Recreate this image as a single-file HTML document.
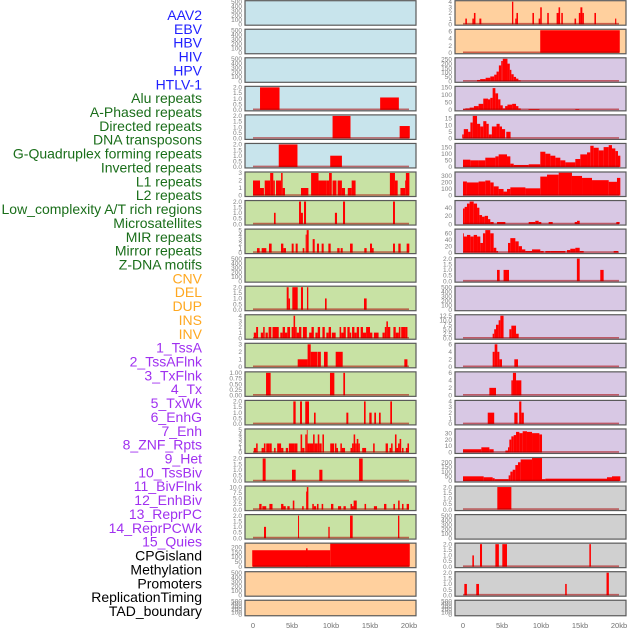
<!DOCTYPE html>
<html><head><meta charset="utf-8"><style>
html,body{margin:0;padding:0;background:#fff;}
svg{display:block;font-family:"Liberation Sans",sans-serif;}
</style></head><body>
<svg id="chart" width="630" height="630" viewBox="0 0 630 630" xmlns="http://www.w3.org/2000/svg"></svg>
<script>
const featureLabels = ["AAV2","EBV","HBV","HIV","HPV","HTLV-1","Alu repeats","A-Phased repeats","Directed repeats","DNA transposons","G-Quadruplex forming repeats","Inverted repeats","L1 repeats","L2 repeats","Low_complexity A/T rich regions","Microsatellites","MIR repeats","Mirror repeats","Z-DNA motifs","CNV","DEL","DUP","INS","INV","1_TssA","2_TssAFlnk","3_TxFlnk","4_Tx","5_TxWk","6_EnhG","7_Enh","8_ZNF_Rpts","9_Het","10_TssBiv","11_BivFlnk","12_EnhBiv","13_ReprPC","14_ReprPCWk","15_Quies","CPGisland","Methylation","Promoters","ReplicationTiming","TAD_boundary"];
const featureGroups = ["virus","virus","virus","virus","virus","virus","repeat","repeat","repeat","repeat","repeat","repeat","repeat","repeat","repeat","repeat","repeat","repeat","repeat","sv","sv","sv","sv","sv","chrom","chrom","chrom","chrom","chrom","chrom","chrom","chrom","chrom","chrom","chrom","chrom","chrom","chrom","chrom","other","other","other","other","other"];
const xTickValues = [0,5,10,15,20];
const xTickLabels = ["0","5kb","10kb","15kb","20kb"];
const yMaxValues = [500,500,500,2,2,2,3,2,5,500,2,4,3,1,2,5,2,10,2,233,500,500,4,6.3,255,150,17,170,345,55,70,2,500,12.5,6,6,4,35,240,2,500,2,2,500];
const yTickSets = [
 [0,100,200,300,400,500],[0,100,200,300,400,500],[0,100,200,300,400,500],
 [0,0.5,1,1.5,2],[0,0.5,1,1.5,2],[0,0.5,1,1.5,2],[0,1,2,3],[0,0.5,1,1.5,2],[0,1,2,3,4,5],
 [0,100,200,300,400,500],[0,0.5,1,1.5,2],[0,1,2,3,4],[0,1,2,3],[0,0.25,0.5,0.75,1],
 [0,0.5,1,1.5,2],[0,1,2,3,4,5],[0,0.5,1,1.5,2],[0,2.5,5,7.5,10],[0,0.5,1,1.5,2],
 [0,50,100,150,200],[0,100,200,300,400,500],[0,100,200,300,400,500],
 [0,1,2,3,4],[0,2,4,6],[0,50,100,150,200,250],[0,50,100,150],[0,5,10,15],[0,50,100,150],
 [0,100,200,300],[0,20,40],[0,20,40,60],[0,0.5,1,1.5,2],[0,100,200,300,400,500],
 [0,2.5,5,7.5,10,12.5],[0,2,4,6],[0,2,4,6],[0,1,2,3,4],[0,10,20,30],[0,50,100,150,200],
 [0,0.5,1,1.5,2],[0,100,200,300,400,500],[0,0.5,1,1.5,2],[0,0.5,1,1.5,2],[0,100,200,300,400,500]];

// bars: [start kb, end kb, value]
const barsHIV = [[0.9,3.4,2],[16.3,18.7,1.1]];
const barsHPV = [[10.2,12.5,2],[18.8,20.1,1.1]];
const barsHTLV = [[3.3,5.7,2],[9.9,11.4,1]];
const barsAlu = [[0,0.9,2],[0.9,1.4,1],[1.5,2.2,2],[2.2,2.6,3],[2.6,2.8,2],[2.95,3.6,2],[3.6,3.8,3],[3.8,4.1,1],[6.15,7.1,1],[7.45,8.4,3],[8.4,9.45,2],[9.45,9.75,2],[9.75,10.1,3],[10.2,10.7,2],[10.85,11.4,2],[11.4,11.8,1],[12.15,12.65,1],[12.65,13.15,2],[17.55,18.2,3],[18.2,18.55,2],[18.9,19.5,1],[19.5,19.6,2],[19.6,20.05,3]];
const barsAPhased = [[2.69,2.9,1],[5.9,6.15,2],[6.15,6.4,1],[6.54,6.8,2],[10.5,10.77,1],[11.54,11.8,2],[17.95,18.2,2]];
const barsDirected = [[0.51,0.85,1],[1.11,1.71,1],[2.05,2.39,2],[3.59,3.89,2],[3.89,4.23,1],[4.96,5.21,2],[5.47,5.73,2],[6.37,6.58,1],[6.75,6.88,4],[6.88,7.14,5],[7.65,7.91,3],[8.2,8.46,2],[8.8,9.06,2],[9.66,9.96,2],[10.8,11.1,1],[11.24,11.5,1],[12.44,12.78,2],[14.27,14.57,1],[15.0,15.26,2],[15.26,15.47,1],[17.95,18.2,2],[18.63,18.93,2],[19.7,20.04,2]];
const barsGQuad = [[4.32,4.57,2],[4.57,4.74,1],[5.04,5.73,2],[6.15,6.41,2],[6.92,7.09,2],[9.23,9.44,1],[14.23,14.57,1]];
const barsInverted = [[0.1,0.4,1],[0.4,0.65,2],[1.0,1.3,1],[1.3,1.5,2],[1.6,1.9,1],[2.0,2.35,2],[2.5,2.95,2],[2.95,3.3,2],[3.5,3.8,1],[3.8,4.1,2],[4.1,4.4,1],[4.4,4.75,2],[4.95,5.2,2],[5.2,5.4,4],[5.4,5.6,2],[5.6,5.9,1],[5.9,6.2,2],[6.4,6.9,2],[7.2,7.5,1],[7.5,7.8,2],[8.0,8.3,1],[8.3,8.6,2],[8.9,9.2,2],[9.4,9.7,1],[9.7,10.0,2],[10.1,10.6,1],[11.1,11.3,2],[11.3,11.6,1],[11.6,11.9,2],[12.1,12.4,2],[12.4,12.6,1],[12.7,13.0,2],[13.0,13.3,1],[13.3,13.6,2],[13.8,14.1,2],[14.1,14.5,1],[14.5,15.0,2],[15.0,15.3,1],[15.5,16.1,1],[16.6,16.9,1],[16.9,17.1,2],[17.1,17.3,3],[17.3,17.6,2],[18.0,18.3,2],[18.3,18.7,1],[18.7,18.9,2],[19.0,19.5,2],[19.5,19.8,2]];
const barsL1 = [[5.73,7.0,1],[7.0,7.4,3],[7.4,8.25,2],[8.3,8.7,2],[9.1,9.57,2],[10.6,11.5,2],[19.4,19.8,1]];
const barsL2 = [[1.67,2.26,1],[9.87,10.43,1],[11.58,11.8,1]];
const barsLowComplex = [[5.17,5.47,2],[6.03,6.28,2],[6.7,7.18,2],[7.82,8.03,1],[11.97,12.22,1],[14.23,14.44,2],[14.91,15.21,1],[15.55,15.77,1],[16.15,16.37,1],[17.6,17.82,2]];
const barsMicrosat = [[0.1,0.4,1],[0.4,0.6,2],[1.1,1.4,1],[1.4,1.6,2],[1.7,2.1,2],[2.1,2.4,2],[2.7,2.9,1],[3.1,3.4,2],[3.4,3.6,2],[3.6,3.9,1],[4.2,4.5,1],[4.6,5.3,2],[5.3,5.7,2],[6.1,6.3,4],[6.3,6.6,1],[6.7,6.9,4],[6.9,7.0,5],[7.0,7.3,2],[7.3,7.7,2],[7.7,7.9,4],[7.9,8.3,2],[8.3,8.5,4],[8.5,8.8,2],[8.9,9.1,4],[9.9,10.4,2],[10.5,10.7,2],[10.7,10.9,1],[11.2,11.4,2],[11.4,11.8,1],[12.5,12.7,1],[12.7,12.9,2],[12.9,13.1,4],[13.1,13.3,2],[13.3,13.5,3],[13.5,13.7,2],[14.0,14.5,1],[15.4,15.6,2],[17.0,17.3,2],[17.5,17.7,1],[17.7,17.9,2],[18.2,18.4,4],[18.4,18.6,1],[18.6,18.8,2],[18.8,19.0,3],[19.1,19.3,1],[19.6,19.8,1],[19.8,20.0,2]];
const barsMIR = [[1.24,1.62,2],[5.0,5.47,1],[8.5,8.9,1],[13.6,14.06,2]];
const barsMirror = [[0.8,1.1,2.5],[1.2,1.7,1.5],[2.1,2.5,2.5],[3.6,3.9,2.5],[3.9,4.2,1.5],[4.4,4.7,1.5],[5.1,5.3,4],[6.3,6.5,1.5],[6.8,6.9,8],[6.9,7.1,10],[7.6,7.8,2.5],[7.8,8.1,1.5],[8.2,8.4,2.5],[8.8,9.0,2.5],[10.0,10.3,2.5],[10.9,11.3,1.5],[11.6,11.9,1.5],[12.5,12.7,2.5],[12.7,12.9,1.5],[12.9,13.3,4],[14.3,14.5,2.5],[15.5,15.9,1.5],[16.8,17.1,2.5],[18.0,18.2,2.5],[18.6,18.8,4],[19.1,19.3,2.5],[19.7,20.0,2.5]];
const barsZDNA = [[1.41,1.67,1],[5.77,5.9,2],[9.66,9.83,1],[12.44,12.78,2],[18.59,18.76,2]];
const barsCNV = [[-0.1,9.9,170],[6.8,7.0,190],[9.9,20.1,240]];
const barsINS = [[0.3,0.5,1],[1.2,1.4,1],[1.4,1.6,2],[2.1,2.35,1],[6.28,6.45,4],[6.7,6.85,1],[6.85,7.05,2],[8.9,9.1,2],[9.7,9.9,1],[9.9,10.1,3],[10.8,11.0,2],[12.0,12.25,2],[12.25,12.45,3],[12.6,12.8,2],[14.3,14.5,1],[14.85,15.05,2],[15.05,15.3,3],[15.3,15.5,2],[16.85,17.05,2],[19.5,19.65,1]];
const barsINV = [[9.9,20.1,6.3]];
const barsTssA = [[1.8,2.2,15],[2.2,2.9,25],[2.9,3.5,40],[3.5,4.0,55],[4.0,4.3,75],[4.3,4.6,110],[4.6,4.9,180],[4.9,5.1,230],[5.1,5.7,255],[5.7,6.0,200],[6.0,6.2,130],[6.2,6.5,80],[6.5,6.8,50],[6.8,7.1,30],[7.1,7.4,10]];
const barsTssAFlnk = [[0,0.3,5],[0.3,0.85,10],[0.85,1.4,15],[1.4,2.0,25],[2.0,2.6,40],[2.6,3.2,75],[3.2,3.5,70],[3.5,3.8,80],[3.8,4.15,145],[4.15,4.5,110],[4.5,4.8,70],[4.8,5.1,30],[5.1,5.4,10],[5.4,5.7,25],[5.7,6.3,35],[6.3,6.8,40],[6.8,7.1,25],[7.1,7.4,10],[8.4,9.8,5],[14.4,14.9,5]];
const barsTxFlnk = [[-0.1,0.1,3],[0.1,0.65,7],[0.65,0.95,5],[0.95,1.25,12],[1.25,1.8,17],[1.8,2.2,11],[2.2,2.6,9],[2.6,3.0,13],[3.0,3.3,11],[3.3,3.7,3],[3.7,4.3,9],[4.3,4.7,11],[4.7,5.0,9],[5.0,5.4,7],[5.55,6.1,5]];
const barsTx = [[0,0.94,55],[0.94,2.0,50],[2.0,2.86,50],[2.86,4.15,70],[4.15,4.57,80],[4.57,5.64,95],[5.64,6.07,80],[6.07,6.5,25],[6.5,8.42,15],[8.42,9.91,20],[9.91,10.56,115],[10.56,11.2,100],[11.2,11.84,85],[11.84,12.48,70],[12.48,13.12,50],[13.12,14.4,35],[14.4,15.04,60],[15.04,15.9,95],[15.9,16.32,110],[16.32,16.75,160],[16.75,17.4,145],[17.4,18.03,125],[18.03,18.68,150],[18.68,19.1,165],[19.1,19.53,140],[19.53,19.87,120],[19.87,20.17,85]];
const barsTxWk = [[0,0.5,215],[0.5,2.0,200],[2.0,2.86,215],[2.86,3.5,230],[3.5,3.93,200],[3.93,4.57,140],[4.57,5.2,100],[5.2,5.64,60],[5.64,6.07,100],[6.07,8.0,125],[8.0,9.91,110],[9.91,10.77,290],[10.77,12.27,320],[12.27,13.97,350],[13.97,15.26,300],[15.26,16.54,270],[16.54,18.68,235],[18.68,19.74,210],[19.74,20.17,270]];
const barsEnhG = [[0,0.21,38],[0.21,0.51,42],[0.51,0.85,50],[0.85,1.37,55],[1.37,1.8,50],[1.8,2.1,40],[2.1,2.44,22],[2.44,2.78,18],[2.78,3.21,20],[3.21,3.5,12],[3.5,3.93,5],[4.36,5.43,5],[8.42,9.27,5],[9.27,9.7,8],[9.7,10.04,5],[10.98,11.5,5],[14.32,14.62,5],[14.62,14.96,8],[19.66,20.08,5]];
const barsEnh = [[0,0.09,60],[0.09,0.51,50],[0.51,0.94,55],[0.94,1.37,50],[1.37,1.8,55],[1.8,2.22,50],[2.22,2.56,30],[2.56,2.86,60],[2.86,3.5,70],[3.5,3.93,60],[3.93,4.27,15],[4.27,4.49,5],[5.77,6.07,30],[6.07,6.71,45],[6.71,7.14,35],[7.14,7.56,20],[7.56,7.99,10],[7.99,8.85,5],[8.85,9.91,10],[9.91,10.34,5],[10.56,11.2,5],[11.2,13.12,5],[13.33,13.76,8],[13.76,14.4,12],[14.4,14.96,15],[14.96,15.47,5],[19.32,19.87,5]];
const barsZNF = [[4.36,4.7,1],[5.2,5.9,1],[14.6,14.96,2],[17.6,18.03,1]];
const barsTssBiv = [[3.8,4.0,2.5],[4.0,4.23,5],[4.23,4.57,7.5],[4.57,4.79,10],[4.79,5.2,12.5],[5.94,6.2,5],[6.2,6.8,7],[6.8,7.14,2.5]];
const barsBivFlnk = [[3.8,4.06,4],[4.06,4.4,6],[4.4,4.66,4],[4.66,5.0,2],[6.58,7.05,2]];
const barsEnhBiv = [[3.38,4.23,2],[6.2,6.4,4],[6.4,6.8,6],[6.8,7.48,4]];
const barsReprPC = [[3.17,4.0,2],[6.58,7.0,2],[7.2,7.48,4],[7.48,7.8,2]];
const barsReprPCWk = [[0,2.35,5],[2.35,3.38,8],[3.38,3.93,5],[5.43,5.77,3],[5.77,5.94,8],[5.94,6.2,20],[6.2,6.5,25],[6.5,6.8,27],[6.8,7.22,32],[7.22,7.65,30],[7.65,8.2,33],[8.2,8.85,32],[8.85,9.79,30],[9.79,10.13,28]];
const barsQuies = [[0,2.65,50],[2.65,3.8,40],[3.8,4.06,30],[4.06,5.85,20],[5.85,6.07,60],[6.07,6.37,100],[6.37,6.71,120],[6.71,7.05,170],[7.05,7.39,200],[7.39,8.85,230],[8.85,10.13,245],[10.13,10.56,20],[10.56,18.46,25],[18.46,19.1,40],[19.1,20.17,50]];
const barsCpG = [[4.4,6.2,2]];
const barsPromoters = [[1.2,1.4,1],[2.18,2.44,2],[4.15,4.6,2],[5.04,5.64,2],[16.2,16.4,2]];
const barsRepTiming = [[0.17,0.5,1],[1.7,2.05,1],[13.1,13.3,1],[18.4,18.7,2]];
const panelBars = [null,null,null,barsHIV,barsHPV,barsHTLV,barsAlu,barsAPhased,barsDirected,null,barsGQuad,barsInverted,barsL1,barsL2,barsLowComplex,barsMicrosat,barsMIR,barsMirror,barsZDNA,barsCNV,null,null,barsINS,barsINV,barsTssA,barsTssAFlnk,barsTxFlnk,barsTx,barsTxWk,barsEnhG,barsEnh,barsZNF,null,barsTssBiv,barsBivFlnk,barsEnhBiv,barsReprPC,barsReprPCWk,barsQuies,barsCpG,null,barsPromoters,barsRepTiming,null];

const NS = "http://www.w3.org/2000/svg";
const svg = document.getElementById('chart');
const groupLabelColor = {virus:"#1f1fff",repeat:"#1a6e1a",sv:"#ffa820",chrom:"#a030f0",other:"#000"};
const groupBg = {virus:"#c8e4ec",repeat:"#c8e2a4",sv:"#ffd09e",chrom:"#d8c8e4",other:"#d0d0d0"};
function mk(tag, attrs){const e=document.createElementNS(NS,tag);for(const k in attrs)e.setAttribute(k,attrs[k]);return e;}
function fmt(v, ticks){let d=0;ticks.forEach(t=>{const s=String(t);if(s.includes('.'))d=Math.max(d,s.split('.')[1].length);});if(d===0&&ticks.some(t=>t%1!==0))d=1;return v.toFixed(d);}

// left labels
featureLabels.forEach((lab,i)=>{
  const t=mk('text',{x:202,y:20+i*13.86,'text-anchor':'end','font-size':'14px',fill:groupLabelColor[featureGroups[i]]});
  
  
  t.textContent=lab; svg.appendChild(t);
});

const defs=mk('defs',{}); svg.appendChild(defs);
featureLabels.forEach((lab,i)=>{
  const col=i<22?0:1, row=i%22;
  const px=col===0?245:455, pw=171;
  const py=0.7+row*28.55, ph=row===21?15.5:24.5;
  const ymax=yMaxValues[i], ticks=yTickSets[i];
  const xs=kb=>px+8+kb*7.8;
  const ys=v=>py+ph-1-v/ymax*(ph-2);
  const g=mk('g',{});
  
  
  svg.appendChild(g);
  const cp=mk('clipPath',{id:'cp'+i}); cp.appendChild(mk('rect',{x:px,y:py,width:pw,height:ph})); defs.appendChild(cp);
  const bg=mk('rect',{x:px,y:py,width:pw,height:ph,fill:groupBg[featureGroups[i]]});
  
  
  g.appendChild(bg);
  const bars=panelBars[i];
  const inner=mk('g',{'clip-path':'url(#cp'+i+')'}); g.appendChild(inner);
  if(bars){
    bars.forEach(b=>{
      const r=mk('rect',{x:xs(b[0]),y:ys(b[2]),width:Math.max(0.8,xs(b[1])-xs(b[0])),height:ys(0)-ys(b[2]),fill:'#ff0000'});
      
      
      inner.appendChild(r);
    });
    const bl=mk('line',{x1:xs(0),x2:xs(20),y1:ys(0)-0.5,y2:ys(0)-0.5,stroke:'rgba(170,0,0,0.55)','stroke-width':1.6});
    
    
    inner.appendChild(bl);
  }
  const border=mk('rect',{x:px,y:py,width:pw,height:ph,fill:'none',stroke:'#5a5a5a','stroke-width':1.2});
  
  
  g.appendChild(border);
  ticks.forEach(t=>{
    const tt=mk('text',{x:px-3,y:ys(t)+2.2,'text-anchor':'end','font-size':'6.5px',fill:'#808080'});
    
    
    tt.textContent=fmt(t,ticks); g.appendChild(tt);
  });
});
// x axis tick labels
[245,455].forEach((px,c)=>{
  xTickValues.forEach((v,k)=>{
    const t=mk('text',{x:px+8+v*7.8,y:628,'text-anchor':'middle','font-size':'7.5px',fill:'#707070'});
    
    
    t.textContent=xTickLabels[k]; svg.appendChild(t);
  });
});
</script>
</body></html>
